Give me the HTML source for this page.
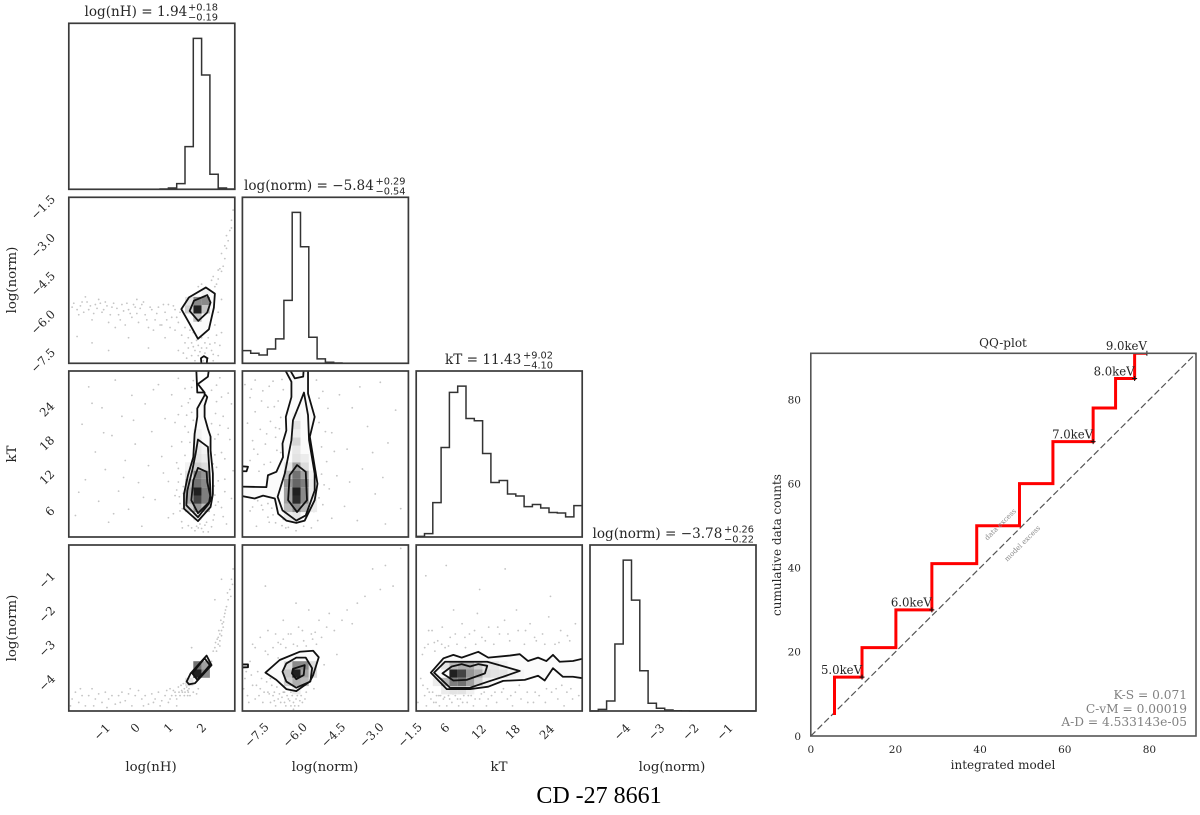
<!DOCTYPE html>
<html lang="en">
<head>
<meta charset="utf-8">
<title>CD -27 8661 corner plot and QQ-plot</title>
<style>
html,body{margin:0;padding:0;background:#fff;}
svg{display:block;filter:blur(0.35px);}
text{font-family:"DejaVu Serif","Liberation Serif",serif;fill:#262626;}
.sc{font-family:"DejaVu Sans","Liberation Sans",sans-serif;font-size:9.8px;}
.ttl{font-size:13.6px;}
.axl{font-size:13.3px;text-anchor:middle;}
.qq{font-size:12px;text-anchor:middle;}
.stat{font-size:12.2px;text-anchor:end;fill:#808080;}
.ex{font-size:7px;fill:#8a8a8a;text-anchor:middle;}
</style>
</head>
<body>
<svg id="fig" xmlns="http://www.w3.org/2000/svg" width="1200" height="815" viewBox="0 0 1200 815">
<rect x="0" y="0" width="1200" height="815" fill="#fff"/>

<g>
<text class="ttl" x="84.5" y="16">log(nH) = 1.94</text>
<text class="sc" x="188" y="10.5">+0.18</text>
<text class="sc" x="188" y="20.5">−0.19</text>
<text class="ttl" x="244" y="190">log(norm) = −5.84</text>
<text class="sc" x="375.5" y="184.5">+0.29</text>
<text class="sc" x="375.5" y="194.5">−0.54</text>
<text class="ttl" x="445" y="364">kT = 11.43</text>
<text class="sc" x="523" y="358.5">+9.02</text>
<text class="sc" x="523" y="368.5">−4.10</text>
<text class="ttl" x="592.5" y="538">log(norm) = −3.78</text>
<text class="sc" x="724" y="532.5">+0.26</text>
<text class="sc" x="724" y="542.5">−0.22</text>
</g>

<g>
<text class="axl" x="151" y="771">log(nH)</text>
<text class="axl" x="325" y="771">log(norm)</text>
<text class="axl" x="499" y="771">kT</text>
<text class="axl" x="672" y="771">log(norm)</text>
<text class="axl" x="16" y="280" transform="rotate(-90 16 280)">log(norm)</text>
<text class="axl" x="16" y="454" transform="rotate(-90 16 454)">kT</text>
<text class="axl" x="16" y="628" transform="rotate(-90 16 628)">log(norm)</text>
</g>

<text x="599" y="803" text-anchor="middle" style='font-family:"Liberation Serif",serif;font-size:24px;fill:#000'>CD -27 8661</text>

<g id="corner"></g>
<g id="qq"></g>

<g>
<text class="qq" x="1003" y="347">QQ-plot</text>
<text class="qq" x="1003" y="769">integrated model</text>
<text class="qq" x="781" y="545" transform="rotate(-90 781 545)">cumulative data counts</text>
<text class="stat" x="1187" y="699">K-S = 0.071</text>
<text class="stat" x="1187" y="713">C-vM = 0.00019</text>
<text class="stat" x="1187" y="726">A-D = 4.533143e-05</text>
<text class="ex" x="1002" y="526" transform="rotate(-45 1002 526)">data excess</text>
<text class="ex" x="1024" y="545" transform="rotate(-45 1024 545)">model excess</text>
</g>
</svg>

<script>
// ---------- corner plot data ----------
const histLogNH = [0,0,0,0,0,0,0,0,0,0,0,2,9,38,283,1000,757,100,9,2];
const histLogNorm1 = [84,67,55,95,162,417,1000,772,173,29,7,2,0,0,0,0,0,0,0,0];
const histKT = [4,22,228,593,958,1000,785,770,553,361,374,285,272,201,215,192,162,159,133,208];
const histLogNorm2 = [0,11,66,444,1000,735,267,51,18,7,2,1,0,0,0,0,0,0,0,0];

const rangeLogNH = [-2,3];
const rangeLogNorm1 = [-8,-1.5];
const rangeKT = [1.3,30.6];
const rangeLogNorm2 = [-4.85,0];

const ticksLogNH = [-1,0,1,2];
const tickLabelsLogNH = ['−1','0','1','2'];
const ticksLogNorm1 = [-7.5,-6,-4.5,-3,-1.5];
const tickLabelsLogNorm1 = ['−7.5','−6.0','−4.5','−3.0','−1.5'];
const ticksKT = [6,12,18,24];
const tickLabelsKT = ['6','12','18','24'];
const ticksLogNorm2 = [-4,-3,-2,-1];
const tickLabelsLogNorm2 = ['−4','−3','−2','−1'];

const scatterA = [[-1.9,-5.8],[-1.7,-6.1],[-1.6,-5.6],[-1.4,-5.9],[-1.3,-6.3],[-1.2,-5.7],[-1.0,-6.0],[-0.9,-5.6],[-0.8,-6.4],[-0.7,-5.8],[-0.5,-6.1],[-0.4,-5.7],[-0.3,-6.5],[-0.2,-5.9],[-0.1,-6.2],[0,-5.8],[0.1,-6.4],[0.2,-5.7],[0.3,-6.1],[0.4,-6.6],[0.5,-5.9],[0.6,-6.3],[0.7,-5.8],[0.8,-6.5],[0.9,-6.0],[1.0,-5.7],[1.1,-6.2],[1.2,-6.7],[1.2,-5.9],[1.3,-6.4],[1.4,-6.9],[1.5,-7.2],[1.5,-6.6],[1.6,-7.4],[1.6,-7.0],[1.7,-7.7],[1.7,-7.2],[1.8,-7.5],[1.8,-7.9],[1.9,-7.3],[1.9,-7.7],[2.0,-7.4],[2.0,-7.0],[2.1,-7.6],[2.1,-7.2],[2.2,-7.8],[2.2,-7.0],[2.3,-7.5],[2.4,-7.2],[2.5,-7.7],[2.4,-6.5],[2.5,-6.0],[2.6,-6.8],[2.45,-4.9],[2.5,-4.7],[2.4,-5.0],[2.6,-4.4],[2.65,-4.2],[2.7,-3.9],[2.55,-4.3],[2.75,-3.5],[2.8,-3.2],[2.85,-2.8],[2.9,-2.4],[2.95,-2.0],[2.9,-2.7],[2.0,-4.9],[1.9,-5.0],[-1.5,-5.4],[-1.1,-5.5],[-0.6,-6.6],[0.05,-5.5],[0.55,-6.7],[1.05,-6.6],[1.35,-6.0],[1.75,-6.8],[2.35,-7.9],[1.45,-7.6],[-1.85,-5.65],[-1.75,-5.9],[-1.65,-5.75],[-1.55,-6.0],[-1.45,-5.6],[-1.35,-5.75],[-1.25,-6.05],[-1.15,-5.85],[-1.05,-5.65],[-0.95,-5.9],[-0.85,-5.75],[-0.75,-6.1],[-0.65,-5.65],[-0.55,-5.85],[-0.45,-6.3],[-0.35,-5.95],[-0.25,-5.65],[-0.15,-6.05],[-0.05,-5.7],[0.05,-6.05],[0.15,-5.85],[0.25,-5.6],[0.35,-6.3],[0.45,-5.8],[0.65,-6.05],[0.75,-6.5],[0.85,-5.7],[0.95,-6.3],[1.15,-5.75],[1.25,-6.2],[-1.75,-6.95],[-1.3,-7.2],[-0.8,-7.5],[-0.2,-7.0],[0.4,-7.4],[0.9,-7.0],[1.3,-7.5],[1.55,-7.8],[1.65,-6.7],[1.85,-7.1],[1.95,-7.55],[2.05,-7.9],[2.15,-7.4],[2.25,-7.25],[2.35,-7.65],[1.75,-7.35],[2.55,-7.3],[2.45,-6.9],[2.6,-5.5],[2.3,-4.75],[2.35,-4.6],[2.5,-4.35],[2.6,-3.7],[2.7,-3.4],[2.75,-3.0]];

const scatterB = [[-1.8,5.1],[-1.6,21.2],[-1.5,11.4],[-1.4,27.8],[-1.2,16.3],[-1.1,7.6],[-1.0,24.1],[-0.9,13.2],[-0.8,3.9],[-0.7,19.2],[-0.6,29.0],[-0.5,9.4],[-0.4,22.6],[-0.3,14.8],[-0.2,6.2],[-0.1,26.3],[0,17.7],[0.1,10.9],[0.2,3.2],[0.3,24.8],[0.4,13.9],[0.5,19.9],[0.6,7.9],[0.7,28.2],[0.8,15.5],[0.9,22.2],[1.0,4.7],[1.0,11.1],[1.1,17.3],[1.1,26.4],[1.2,8.6],[1.2,21.5],[1.3,13.4],[1.3,29.3],[1.35,5.9],[1.4,18.1],[1.4,24.4],[1.45,10.2],[1.5,15.7],[1.5,27.5],[1.55,22.8],[1.6,3.3],[1.6,19.8],[1.65,25.7],[1.7,2.9],[1.75,28.9],[1.8,2.4],[1.85,3.2],[2.0,2.8],[2.1,3.4],[2.2,2.2],[2.35,4.3],[2.4,8.7],[2.45,13.6],[2.5,19.4],[2.45,25.2],[2.55,29.4],[2.6,6.5],[2.6,16.2],[2.65,22.6],[2.7,11.5],[2.75,3.6],[2.8,26.7],[2.85,18.5],[2.9,8.1],[2.95,13.0],[1.25,9.6],[1.35,7.2],[1.42,6.3],[1.38,12.4],[2.38,10.3],[2.42,6.9],[2.4,15.8],[2.3,21.3],[2.3,27.2],[-1.7,9.2],[-1.3,24.9],[-0.95,19.7],[-0.65,5.4],[-0.35,11.8],[-0.05,21.9],[0.25,8.3],[0.55,27.3],[0.85,12.6],[1.15,5.4],[1.25,14.4],[1.3,22.9],[1.4,4.0],[1.45,9.0],[1.5,20.8],[1.55,14.1],[1.6,25.0],[1.65,18.0],[1.7,23.3],[1.7,27.7],[1.75,21.9],[1.9,2.9],[1.95,3.6],[2.05,2.2],[2.15,3.9],[2.3,3.1],[2.35,14.2],[2.4,18.6],[2.42,23.1],[2.38,5.2],[2.45,28.1],[2.5,11.2],[2.5,7.5],[2.55,21.0],[2.6,26.0],[2.65,4.9],[2.7,9.3],[2.7,15.1],[2.8,20.5],[2.9,24.8],[1.42,2.9],[1.3,11.0],[1.33,8.4]];

const scatterC = [[-7.9,28.2],[-7.8,21.4],[-7.7,25.9],[-7.7,14.8],[-7.6,18.3],[-7.5,29.0],[-7.5,23.4],[-7.4,15.9],[-7.3,20.3],[-7.2,27.1],[-7.2,6.1],[-7.1,17.7],[-7.0,24.2],[-7.0,7.2],[-6.9,14.5],[-6.9,21.7],[-6.8,28.8],[-6.8,5.2],[-6.7,18.9],[-6.7,3.8],[-6.6,25.3],[-6.6,8.0],[-6.5,16.2],[-6.5,22.4],[-6.4,4.4],[-6.4,27.3],[-6.3,2.9],[-6.7,20.6],[-7.4,7.7],[-7.6,6.6],[-7.0,4.8],[-6.2,3.0],[-5.9,2.4],[-5.6,3.2],[-5.2,5.8],[-5.0,8.2],[-4.9,12.4],[-4.9,17.2],[-5.0,21.5],[-5.0,25.8],[-5.1,29.0],[-4.7,14.6],[-4.6,9.8],[-4.5,19.7],[-4.3,12.1],[-4.2,26.4],[-4.0,6.7],[-3.9,16.8],[-3.7,24.1],[-3.5,4.2],[-3.3,13.3],[-3.1,20.8],[-2.8,8.9],[-2.6,28.6],[-2.4,3.6],[-2.3,17.9],[-2.0,23.7],[-1.8,6.3],[-7.85,9.6],[-7.7,5.9],[-7.65,27.4],[-7.55,16.8],[-7.45,3.2],[-7.35,12.9],[-7.25,25.3],[-7.15,14.1],[-7.05,19.5],[-6.95,27.9],[-6.85,6.4],[-6.75,24.3],[-6.65,16.6],[-6.55,20.4],[-6.45,3.3],[-6.45,29.1],[-6.95,3.9],[-7.25,6.9],[-5.05,4.2],[-5.3,2.9],[-4.85,7.0],[-4.8,10.5],[-4.75,19.9],[-4.85,27.0],[-4.65,24.0],[-4.5,4.6],[-4.4,16.4],[-3.8,11.0],[-3.4,27.8],[-2.9,16.2],[-2.5,11.8]];

const scatterD = [[-1.9,-4.5],[-1.8,-4.3],[-1.7,-4.6],[-1.6,-4.4],[-1.5,-4.7],[-1.4,-4.4],[-1.3,-4.2],[-1.2,-4.5],[-1.1,-4.35],[-1.0,-4.6],[-0.9,-4.3],[-0.8,-4.5],[-0.7,-4.4],[-0.6,-4.65],[-0.5,-4.4],[-0.4,-4.3],[-0.3,-4.55],[-0.2,-4.35],[-0.1,-4.7],[0,-4.4],[0.1,-4.25],[0.2,-4.5],[0.3,-4.4],[0.4,-4.65],[0.5,-4.35],[0.6,-4.5],[0.7,-4.3],[0.8,-4.55],[0.9,-4.4],[1.0,-4.6],[1.05,-4.2],[1.1,-4.4],[1.2,-4.3],[1.25,-4.5],[1.3,-4.15],[1.35,-4.4],[1.4,-4.25],[1.45,-4.05],[1.5,-4.3],[1.55,-4.15],[1.6,-4.3],[1.65,-4.4],[1.75,-4.3],[1.9,-4.2],[2.4,-3.0],[2.45,-3.1],[2.5,-2.9],[2.5,-2.7],[2.55,-2.8],[2.55,-2.6],[2.6,-2.5],[2.62,-2.3],[2.65,-2.4],[2.68,-2.1],[2.7,-2.0],[2.75,-1.8],[2.8,-1.6],[2.85,-1.3],[2.9,-1.0],[2.95,-0.7],[2.4,-1.6],[2.6,-1.0],[1.7,-3.0],[2.3,-3.4],[1.05,-4.5],[1.15,-4.25],[1.22,-4.4],[1.32,-4.3],[1.38,-4.1],[1.42,-4.3],[1.48,-4.2],[1.52,-4.05],[1.58,-4.25],[1.62,-4.2],[1.58,-4.4],[1.48,-4.4],[2.35,-3.1],[2.42,-2.85],[2.47,-2.75],[2.52,-2.5],[2.55,-2.95],[2.6,-2.65],[2.58,-2.2],[2.66,-2.25],[2.72,-1.9],[2.78,-1.4],[2.88,-1.5],[2.93,-1.15],[-1.95,-4.7],[-1.65,-4.2],[-1.25,-4.7],[-0.85,-4.75],[-0.45,-4.6],[-0.15,-4.2],[0.25,-4.7],[0.55,-4.6],[0.95,-4.25],[0.75,-4.7],[1.25,-4.7],[1.85,-4.35]];

const scatterE = [[-7.9,-3.9],[-7.8,-4.4],[-7.7,-3.4],[-7.6,-4.1],[-7.6,-2.9],[-7.5,-4.5],[-7.4,-3.7],[-7.3,-4.2],[-7.3,-2.7],[-7.2,-4.6],[-7.1,-3.1],[-7.0,-4.3],[-7.0,-2.5],[-6.9,-4.6],[-6.9,-3.9],[-6.8,-3.0],[-6.8,-4.4],[-6.7,-2.6],[-6.7,-4.7],[-6.6,-3.3],[-6.6,-4.5],[-6.5,-2.9],[-6.5,-4.6],[-6.4,-4.3],[-6.4,-2.2],[-6.3,-4.7],[-6.3,-3.0],[-6.2,-4.5],[-6.2,-2.6],[-6.1,-4.7],[-6.1,-4.3],[-6.0,-4.8],[-6.0,-2.9],[-5.9,-4.5],[-5.9,-1.7],[-5.8,-4.7],[-5.8,-2.4],[-5.7,-4.4],[-5.6,-2.8],[-5.5,-4.3],[-5.4,-1.9],[-5.3,-2.6],[-5.2,-4.2],[-5.1,-2.9],[-5.0,-2.2],[-4.9,-2.7],[-4.8,-3.5],[-4.7,-2.4],[-4.6,-2.0],[-4.4,-2.5],[-4.3,-3.2],[-4.1,-2.2],[-3.9,-1.9],[-3.7,-2.3],[-3.5,-1.7],[-3.2,-1.5],[-2.9,-0.7],[-2.6,-1.3],[-2.4,-0.6],[-2.1,-1.2],[-1.8,-0.1],[-7.1,-1.2],[-7.95,-4.2],[-7.85,-3.7],[-7.75,-4.6],[-7.65,-3.8],[-7.45,-4.1],[-7.35,-4.4],[-7.25,-3.9],[-7.15,-4.3],[-7.05,-4.0],[-6.95,-4.35],[-6.85,-4.1],[-6.75,-4.3],[-6.75,-4.55],[-6.65,-4.15],[-6.55,-4.35],[-6.45,-4.45],[-6.35,-4.3],[-6.35,-4.6],[-6.25,-4.4],[-6.15,-4.55],[-6.05,-4.4],[-6.0,-4.6],[-5.95,-4.7],[-5.85,-4.4],[-5.75,-4.55],[-5.65,-4.6],[-5.55,-4.5],[-7.5,-3.0],[-7.0,-3.2],[-6.6,-2.85],[-6.4,-2.75],[-6.1,-2.6],[-5.85,-2.95],[-5.65,-2.5],[-5.5,-2.95],[-5.25,-2.75],[-5.15,-2.55]];

const scatterF = [[1.6,-4.6],[2.1,-3.9],[2.4,-3.2],[2.8,-4.4],[3.1,-4.7],[3.4,-2.9],[3.6,-4.3],[3.9,-4.5],[4.1,-2.5],[4.4,-4.6],[4.6,-3.1],[4.9,-4.4],[5.1,-2.8],[5.4,-4.7],[5.6,-4.4],[5.9,-2.4],[6.1,-4.5],[6.4,-3.0],[6.7,-4.7],[7.0,-4.4],[7.3,-2.7],[7.6,-4.6],[7.9,-1.9],[8.2,-4.4],[8.5,-2.9],[8.8,-4.7],[9.1,-4.5],[9.4,-2.3],[9.7,-4.4],[10.0,-3.0],[10.3,-4.6],[10.7,-2.6],[11.0,-4.4],[11.4,-4.7],[11.8,-2.9],[12.1,-2.0],[12.5,-4.5],[12.9,-2.7],[13.3,-4.3],[13.7,-4.7],[14.1,-2.4],[14.6,-4.4],[15.0,-2.9],[15.5,-4.6],[16.0,-2.6],[16.4,-4.3],[16.9,-2.2],[17.4,-4.5],[17.8,-2.8],[18.3,-4.7],[18.8,-4.3],[19.3,-2.5],[19.8,-4.5],[20.4,-2.9],[20.9,-4.3],[21.4,-2.3],[22.0,-4.6],[22.5,-2.8],[23.0,-4.4],[23.6,-2.6],[24.1,-4.6],[24.7,-2.1],[25.2,-4.3],[25.8,-2.9],[26.3,-4.5],[26.8,-2.5],[27.4,-4.7],[27.9,-4.3],[28.4,-2.8],[28.9,-4.5],[29.4,-2.3],[30.0,-4.4],[3.0,-0.9],[6.6,-0.6],[17.0,-0.7],[25.0,-1.5],[12.5,-1.3],[19.0,-1.9],[2.5,-4.1],[3.3,-4.2],[4.2,-4.3],[4.8,-4.6],[5.3,-4.4],[6.3,-4.45],[7.2,-4.5],[7.8,-4.35],[8.6,-4.5],[9.5,-4.6],[10.5,-4.4],[11.7,-4.5],[12.8,-4.35],[14.0,-4.5],[15.2,-4.3],[16.7,-4.2],[18.0,-4.4],[19.5,-4.1],[21.0,-4.6],[22.3,-4.3],[24.3,-4.2],[26.0,-4.2],[27.0,-4.1],[28.6,-4.2],[4.5,-2.85],[5.8,-2.9],[7.0,-2.95],[8.2,-2.6],[9.9,-2.7],[11.6,-2.5],[13.5,-2.8],[15.7,-2.4],[17.5,-2.6],[20.6,-2.5],[22.2,-2.7],[24.0,-2.9],[26.5,-2.85],[28.0,-2.65],[2.8,-3.0],[3.5,-2.5]];

const heatA = [[15,6,.95],[15,7,.5],[16,7,.5],[15,5,.25],[14,6,.2],[16,6,.25],[14,7,.12],[16,8,.06]];
const heatB = [[15,2,.1],[15,3,.45],[15,4,.8],[15,5,.95],[15,6,.6],[15,7,.55],[15,8,.2],[15,9,.12],[15,10,.1],[15,11,.08],[15,12,.05],[16,3,.3],[16,4,.55],[16,5,.55],[16,6,.5],[16,7,.45],[16,8,.15],[16,9,.08],[16,10,.05],[14,3,.2],[14,4,.35],[14,5,.35],[14,6,.25],[14,7,.12],[14,8,.05]];
const heatC = [[6,2,.12],[6,3,.5],[6,4,.9],[6,5,.95],[6,6,.65],[6,7,.6],[6,8,.4],[6,9,.12],[6,10,.1],[6,11,.18],[6,12,.08],[6,13,.12],[6,14,.05],[7,3,.3],[7,4,.5],[7,5,.5],[7,6,.55],[7,7,.4],[7,8,.15],[7,9,.08],[5,2,.08],[5,3,.3],[5,4,.4],[5,5,.4],[5,6,.45],[5,7,.3],[5,8,.1],[8,3,.08],[8,4,.08],[8,5,.08],[8,6,.08],[8,7,.06]];
const heatD = [[15,4,.95],[16,4,.5],[15,5,.6],[16,5,.4],[14,3,.12]];
const heatE = [[6,4,.95],[6,5,.5],[6,3,.35],[7,4,.4],[7,5,.5],[7,3,.3],[5,3,.2],[5,4,.25],[5,5,.15],[8,4,.15],[8,5,.15],[6,2,.08]];
const heatF = [[4,4,.95],[5,4,.8],[6,4,.45],[7,4,.35],[8,4,.15],[9,4,.12],[10,4,.12],[11,4,.06],[12,4,.04],[2,3,.08],[3,3,.3],[4,3,.55],[5,3,.6],[6,3,.4],[7,3,.2],[8,3,.06],[3,5,.12],[4,5,.3],[5,5,.35],[6,5,.35],[7,5,.2],[8,5,.1],[9,5,.1],[10,5,.05],[3,2,.08],[4,2,.12],[5,2,.12],[6,2,.06]];

const contoursA = [
 [[2.13,-5.03],[2.40,-5.27],[2.37,-5.82],[2.22,-6.67],[1.89,-7.04],[1.62,-6.41],[1.39,-5.88],[1.62,-5.42]],
 [[2.17,-5.33],[2.27,-5.62],[2.17,-6.01],[1.90,-6.34],[1.64,-5.95],[1.77,-5.55]],
 [[2.0,-8.1],[1.98,-7.8],[2.07,-7.72],[2.17,-7.8],[2.15,-8.1]]
];
const contoursB = [
 [[2.09,26.6],[2.17,26.0],[2.09,24.5],[2.09,22.5],[2.19,20.4],[2.27,19.0],[2.27,16.6],[2.34,12.5],[2.34,8.9],[2.27,6.6],[1.89,4.1],[1.47,6.3],[1.47,8.9],[1.59,12.2],[1.75,15.4],[1.79,19.5],[1.87,22.5],[1.87,24.0],[2.09,26.3]],
 [[2.22,30.9],[2.19,29.6],[1.89,28.3],[2.09,26.8],[1.87,26.8],[1.84,30.9]],
 [[1.89,18.5],[2.19,17.2],[2.24,12.5],[2.27,8.9],[2.22,7.2],[1.89,4.8],[1.54,6.9],[1.57,9.5],[1.72,13.1],[1.82,16.0]],
 [[1.89,13.5],[2.15,12.8],[2.17,11.0],[2.29,7.8],[1.89,5.5],[1.69,7.8],[1.75,11.3]]
];
const contoursC = [
 [[-6.34,30.9],[-6.08,28.7],[-6.08,26.0],[-6.30,22.5],[-6.28,20.1],[-6.43,17.8],[-6.41,15.4],[-6.67,12.8],[-7.0,12.2],[-7.06,10.1],[-8.1,10.2],[-8.1,8.6],[-7.52,8.1],[-7.19,8.6],[-6.73,8.1],[-6.60,5.4],[-6.28,4.2],[-5.89,3.8],[-5.56,4.2],[-5.17,7.8],[-5.06,10.7],[-5.23,15.4],[-5.36,19.0],[-5.17,22.5],[-5.43,26.6],[-5.43,30.9]],
 [[-6.15,30.9],[-5.95,29.3],[-5.62,29.6],[-5.60,30.9]],
 [[-5.59,26.8],[-5.43,22.8],[-5.39,18.4],[-5.17,12.5],[-5.17,9.5],[-5.52,5.1],[-5.89,4.2],[-6.43,6.0],[-6.62,8.4],[-6.34,12.5],[-6.08,18.4],[-6.02,21.9],[-5.76,24.8]],
 [[-5.86,14.0],[-5.52,12.8],[-5.47,7.8],[-5.86,5.7],[-6.21,7.8],[-6.15,12.2]],
 [[-8.1,13.8],[-7.78,13.7],[-7.84,12.9],[-8.1,12.9]]
];
const contoursD = [
 [[2.15,-3.23],[2.30,-3.51],[1.80,-4.04],[1.62,-4.07],[1.55,-3.99],[1.67,-3.75]],
 [[2.09,-3.31],[2.25,-3.51],[1.87,-3.94],[1.72,-3.75]]
];
const contoursE = [
 [[-7.10,-3.73],[-6.54,-3.36],[-5.76,-3.12],[-5.23,-3.09],[-5.01,-3.28],[-5.23,-3.80],[-5.36,-3.99],[-5.89,-4.27],[-6.28,-4.21],[-6.67,-3.94]],
 [[-5.89,-3.29],[-5.52,-3.29],[-5.27,-3.60],[-5.34,-3.99],[-5.89,-4.17],[-6.28,-3.99],[-6.43,-3.70],[-6.28,-3.46]],
 [[-6.02,-3.62],[-5.56,-3.51],[-5.60,-3.80],[-5.89,-3.92],[-6.06,-3.75]],
 [[-8.1,-3.49],[-7.78,-3.49],[-7.78,-3.57],[-8.1,-3.58]]
];
const contoursF = [
 [[3.88,-3.73],[6.11,-3.31],[7.86,-3.21],[9.33,-3.29],[12.26,-3.12],[14.02,-3.29],[17.83,-3.23],[19.58,-3.19],[21.05,-3.39],[22.81,-3.29],[24.27,-3.39],[25.44,-3.21],[26.62,-3.41],[28.96,-3.39],[31,-3.31],[31,-3.90],[28.96,-3.85],[27.2,-3.85],[25.44,-3.60],[23.98,-3.96],[22.81,-3.82],[20.46,-3.94],[16.65,-3.97],[14.02,-4.14],[10.79,-4.21],[6.69,-4.21]],
 [[4.46,-3.73],[6.40,-3.41],[13.84,-3.41],[19.58,-3.68],[16.65,-3.85],[14.02,-3.99],[10.79,-4.17],[7.28,-4.17]],
 [[5.93,-3.75],[7.57,-3.55],[9.33,-3.48],[10.79,-3.55],[12.26,-3.48],[13.84,-3.53],[13.43,-3.75],[10.21,-3.94],[7.86,-3.96]]
];

// ---------- qq plot data ----------
const qqModel = [5.6,5.6,12.1,12.1,20.1,20.1,28.6,28.6,39.2,39.2,49.3,49.3,57.2,57.2,66.7,66.7,72,72,76.5,76.5,79.4];
const qqCounts = [5,14,14,21,21,30,30,41,41,50,50,60,60,70,70,78,78,85,85,91,91];
const qqMarkerModel = [12.1,28.6,66.7,76.5,79.4];
const qqMarkerCounts = [14,30,70,85,91];
const qqEnergyLabels = ['5.0keV','6.0keV','7.0keV','8.0keV','9.0keV'];
const qqTicks = [0,20,40,60,80];
const qqDomain = [0,91];

// ---------- drawing ----------
const NS = 'http://www.w3.org/2000/svg';
const colLeft = [68.8,242.4,416.2,590];
const rowTop = [23.3,197.3,371,545];
const PW = 166, PH = 166;
const ranges = [rangeLogNH,rangeLogNorm1,rangeKT,rangeLogNorm2];
const xTickLabelOffset = [0,1.5,2,3];
const yTickLabelOffset = [0,10,1,1];
const tickVals = [ticksLogNH,ticksLogNorm1,ticksKT,ticksLogNorm2];
const tickTxt = [tickLabelsLogNH,tickLabelsLogNorm1,tickLabelsKT,tickLabelsLogNorm2];

function sx(i,v){const r=ranges[i];return colLeft[i]+(v-r[0])/(r[1]-r[0])*PW;}
function sy(i,v){const r=ranges[i];return rowTop[i]+PH-(v-r[0])/(r[1]-r[0])*PH;}
function mk(tag,attrs,parent){const el=document.createElementNS(NS,tag);for(const k in attrs){el.setAttribute(k,attrs[k]);}parent.appendChild(el);return el;}

const corner = document.getElementById('corner');
const defs = mk('defs',{},corner);

function spine(col,row){
  const el = mk('rect',{x:colLeft[col],y:rowTop[row],width:PW,height:PH,fill:'none',stroke:'#3a3a3a','stroke-width':1.7},corner);
  
  
}

function drawHist(i,counts){
  const g = mk('g',{},corner);
  
  
  const top = Math.max.apply(null,counts)*1.1;
  const bw = PW/counts.length, base = rowTop[i]+PH;
  let d = 'M'+colLeft[i]+' '+base;
  counts.forEach(function(c,k){
    const y = base-c/top*PH;
    d += 'L'+(colLeft[i]+k*bw)+' '+y+'L'+(colLeft[i]+(k+1)*bw)+' '+y;
  });
  d += 'L'+(colLeft[i]+PW)+' '+base;
  const p = mk('path',{d:d,fill:'none',stroke:'#333','stroke-width':1.5},g);
  
  
  spine(i,i);
}

function drawPair(cx,ry,pts,heat,contours){
  const id = 'clip'+cx+'_'+ry;
  const cp = mk('clipPath',{id:id},defs);
  mk('rect',{x:colLeft[cx],y:rowTop[ry],width:PW,height:PH},cp);
  const g = mk('g',{'clip-path':'url(#'+id+')'},corner);
  
  
  pts.forEach(function(p){
    const c = mk('circle',{cx:sx(cx,p[0]),cy:sy(ry,p[1]),r:0.9,fill:'#555','fill-opacity':0.35},g);
    
    
  });
  const rx = ranges[cx], rr = ranges[ry];
  const pathOf = function(line){
    return line.map(function(p,k){return (k?'L':'M')+sx(cx,p[0])+' '+sy(ry,p[1]);}).join('')+'Z';
  };
  const under = mk('path',{d:pathOf(contours[0]),fill:'#fbfbfb'},g);
  
  
  heat.forEach(function(h){
    const x0 = rx[0]+h[0]*(rx[1]-rx[0])/20, x1 = rx[0]+(h[0]+1)*(rx[1]-rx[0])/20;
    const y0 = rr[0]+h[1]*(rr[1]-rr[0])/20, y1 = rr[0]+(h[1]+1)*(rr[1]-rr[0])/20;
    const lv = Math.round(255*(1-h[2])+20*h[2]);
    const r = mk('rect',{x:sx(cx,x0),y:sy(ry,y1),width:sx(cx,x1)-sx(cx,x0),height:sy(ry,y0)-sy(ry,y1),fill:'rgb('+lv+','+lv+','+lv+')'},g);
    
    
  });
  contours.forEach(function(line){
    const l = mk('path',{d:pathOf(line),fill:'none',stroke:'#111','stroke-width':1.8,'stroke-linejoin':'round'},g);
    
    
  });
  spine(cx,ry);
}

drawHist(0,histLogNH);
drawHist(1,histLogNorm1);
drawHist(2,histKT);
drawHist(3,histLogNorm2);
drawPair(0,1,scatterA,heatA,contoursA);
drawPair(0,2,scatterB,heatB,contoursB);
drawPair(1,2,scatterC,heatC,contoursC);
drawPair(0,3,scatterD,heatD,contoursD);
drawPair(1,3,scatterE,heatE,contoursE);
drawPair(2,3,scatterF,heatF,contoursF);

function rotatedLabel(x,y,str,parent){
  const t = mk('text',{x:x,y:y,'text-anchor':'middle','dominant-baseline':'central','font-size':11.8,transform:'rotate(-45 '+x+' '+y+')'},parent);
  t.textContent = str;
  return t;
}
// x tick labels along the bottom row
for(let i=0;i<4;i++){
  tickVals[i].forEach(function(v,k){
    const s = tickTxt[i][k];
    const ly = s.length===1?728:(s.length===2?732:735);
    const t = rotatedLabel(sx(i,v)+xTickLabelOffset[i],ly,s,corner);
    
    
  });
}
// y tick labels down the left column
for(let i=1;i<4;i++){
  tickVals[i].forEach(function(v,k){
    const s = tickTxt[i][k];
    const lx = s.length===1?50:(s.length===2?47:43);
    const t = rotatedLabel(lx,sy(i,v)+yTickLabelOffset[i],s,corner);
    
    
  });
}

// QQ plot
const qq = document.getElementById('qq');
const QL=810.8, QT=353.3, QW=385.2, QH=382.7;
function qx(v){return QL+(v-qqDomain[0])/(qqDomain[1]-qqDomain[0])*QW;}
function qy(v){return QT+QH-(v-qqDomain[0])/(qqDomain[1]-qqDomain[0])*QH;}
const qcp = mk('clipPath',{id:'qqclip'},defs);
mk('rect',{x:QL,y:QT,width:QW,height:QH},qcp);
const qg = mk('g',{'clip-path':'url(#qqclip)'},qq);


const diag = mk('line',{x1:qx(qqDomain[0]),y1:qy(qqDomain[0]),x2:qx(qqDomain[1]),y2:qy(qqDomain[1]),stroke:'#555','stroke-width':1.2,'stroke-dasharray':'6.5 3'},qg);


const stepLine = mk('polyline',{points:qqModel.map(function(m,k){return qx(m)+','+qy(qqCounts[k]);}).join(' '),fill:'none',stroke:'#ff0000','stroke-width':3,'stroke-linejoin':'miter'},qg);


qqMarkerModel.forEach(function(m,k){
  const x=qx(m), y=qy(qqMarkerCounts[k]);
  const mark = mk('path',{d:'M'+(x-2.5)+' '+y+'H'+(x+2.5)+'M'+x+' '+(y-2.5)+'V'+(y+2.5),stroke:'#111','stroke-width':1,fill:'none'},qq);
  
  
  const t = mk('text',{x:x,y:y-3.2,'text-anchor':'end','font-size':11.7},qq);
  t.textContent = qqEnergyLabels[k];
  
  
});
const qf = mk('rect',{x:QL,y:QT,width:QW,height:QH,fill:'none',stroke:'#555','stroke-width':1.6},qq);


qqTicks.forEach(function(v){
  const tx = mk('text',{x:qx(v),y:753,'text-anchor':'middle','font-size':10.5},qq);
  tx.textContent = String(v);
  
  
  const ty = mk('text',{x:801,y:qy(v)+3.8,'text-anchor':'end','font-size':10.5},qq);
  ty.textContent = String(v);
  
  
});
</script>
</body>
</html>
